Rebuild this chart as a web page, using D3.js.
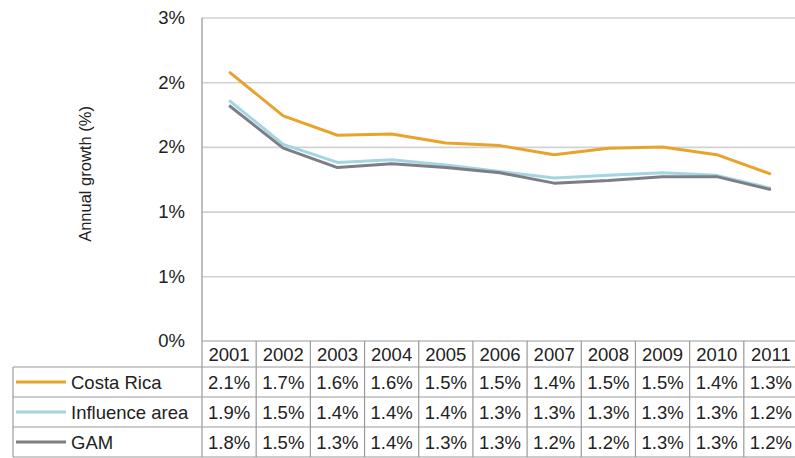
<!DOCTYPE html>
<html>
<head>
<meta charset="utf-8">
<script src="https://cdn.jsdelivr.net/npm/d3@7/dist/d3.min.js"></script>
<style>
  html, body { margin: 0; padding: 0; background: #fff; }
  svg { display: block; font-family: "Liberation Sans", Arial, sans-serif; }
</style>
</head>
<body>
<svg id="chart" width="795" height="458"></svg>
<script>
// Annual growth by area, 2001-2011
const years = ["2001","2002","2003","2004","2005","2006","2007","2008","2009","2010","2011"];
const costaRica = [2.08, 1.74, 1.59, 1.60, 1.53, 1.51, 1.44, 1.49, 1.50, 1.44, 1.29];
const influenceArea = [1.86, 1.52, 1.38, 1.40, 1.36, 1.31, 1.26, 1.28, 1.30, 1.28, 1.18];
const gam = [1.82, 1.49, 1.34, 1.37, 1.34, 1.30, 1.22, 1.24, 1.27, 1.27, 1.17];
const seriesNames = ["Costa Rica", "Influence area", "GAM"];
const seriesColors = ["#e8a42a", "#a3d6e2", "#7d7d86"];
const tickValues = [0, 0.5, 1, 1.5, 2, 2.5];
const tickLabels = ["0%", "1%", "1%", "2%", "2%", "3%"];

const series = [costaRica, influenceArea, gam].map((vals, i) => ({
  name: seriesNames[i], color: seriesColors[i],
  values: vals.map((v, j) => ({ year: years[j], value: v }))
}));

const svg = d3.select("#chart");
const plotLeft = 202, plotRight = 798, plotTop = 17.5, plotBottom = 341;
const x = d3.scaleBand().domain(years).range([plotLeft, plotRight]);
const y = d3.scaleLinear().domain([0, 2.5]).range([plotBottom, plotTop]);
const textColor = "#222";
const fontSize = 18.5;

// horizontal gridlines
svg.append("g")
  .attr("transform", `translate(${plotLeft},0)`)
  .call(d3.axisLeft(y).tickValues(tickValues.filter(t => t > 0)).tickSize(-(plotRight - plotLeft)).tickFormat(""))
  .call(g => g.select(".domain").remove())
  .call(g => g.selectAll("line").attr("stroke", "#d2d2d2").attr("stroke-width", 1.6));

// left axis line
svg.append("line")
  .attr("x1", plotLeft).attr("x2", plotLeft).attr("y1", y(2.5)).attr("y2", y(0))
  .attr("stroke", "#a8a8a8").attr("stroke-width", 1.5);

// y tick labels
svg.append("g")
  .attr("transform", `translate(185,0)`)
  .call(d3.axisLeft(y).tickValues(tickValues).tickSize(0).tickPadding(0)
    .tickFormat((d, i) => tickLabels[i]))
  .call(g => g.select(".domain").remove())
  .call(g => g.selectAll("text").attr("font-size", fontSize).attr("fill", textColor)
    .attr("font-family", "'Liberation Sans', Arial, sans-serif"));

// y axis title
svg.append("text")
  .attr("transform", "translate(91,174) rotate(-90)")
  .attr("text-anchor", "middle")
  .attr("font-size", 16.5)
  .attr("fill", textColor)
  .text("Annual growth (%)");

// series lines
const line = d3.line()
  .x(d => x(d.year) + x.bandwidth() / 2)
  .y(d => y(d.value));

svg.append("g").selectAll("path")
  .data(series)
  .join("path")
  .attr("d", d => line(d.values))
  .attr("fill", "none")
  .attr("stroke", d => d.color)
  .attr("stroke-width", 3)
  .attr("stroke-linejoin", "round");

// data table under the plot
const headerTop = 341, headerH = 26, rowH = 30, tableLeft = 13;
const border = "#9a9a9a";
const fmt = d3.format(".1f");
const table = svg.append("g");

// header row with years
table.selectAll("text.year")
  .data(years)
  .join("text")
  .attr("class", "year")
  .attr("x", d => x(d) + x.bandwidth() / 2)
  .attr("y", headerTop + headerH / 2)
  .attr("dy", "0.36em")
  .attr("text-anchor", "middle")
  .attr("font-size", fontSize)
  .attr("fill", textColor)
  .text(d => d);

// body rows
series.forEach((s, i) => {
  const rowTop = headerTop + headerH + i * rowH;
  const cy = rowTop + rowH / 2;
  table.append("line")
    .attr("x1", 16).attr("x2", 66).attr("y1", cy).attr("y2", cy)
    .attr("stroke", s.color).attr("stroke-width", 3);
  table.append("text")
    .attr("x", 71).attr("y", cy).attr("dy", "0.36em")
    .attr("font-size", fontSize).attr("fill", textColor)
    .text(s.name);
  table.selectAll(null)
    .data(s.values)
    .join("text")
    .attr("x", d => x(d.year) + x.bandwidth() / 2)
    .attr("y", cy).attr("dy", "0.36em")
    .attr("text-anchor", "middle")
    .attr("font-size", fontSize).attr("fill", textColor)
    .text(d => fmt(d.value) + "%");
});

// table grid
const tableBottom = headerTop + headerH + series.length * rowH;
const gridLines = [];
gridLines.push([plotLeft, headerTop, plotRight, headerTop]);
for (let i = 0; i <= series.length; i++) {
  const yy = headerTop + headerH + i * rowH;
  gridLines.push([tableLeft, yy, plotRight, yy]);
}
gridLines.push([tableLeft, headerTop + headerH, tableLeft, tableBottom]);
years.forEach(yr => gridLines.push([x(yr), headerTop, x(yr), tableBottom]));
gridLines.push([plotRight, headerTop, plotRight, tableBottom]);

table.selectAll("line.grid")
  .data(gridLines)
  .join("line")
  .attr("class", "grid")
  .attr("x1", d => d[0]).attr("y1", d => d[1])
  .attr("x2", d => d[2]).attr("y2", d => d[3])
  .attr("stroke", border).attr("stroke-width", 1.2);
</script>
</body>
</html>
